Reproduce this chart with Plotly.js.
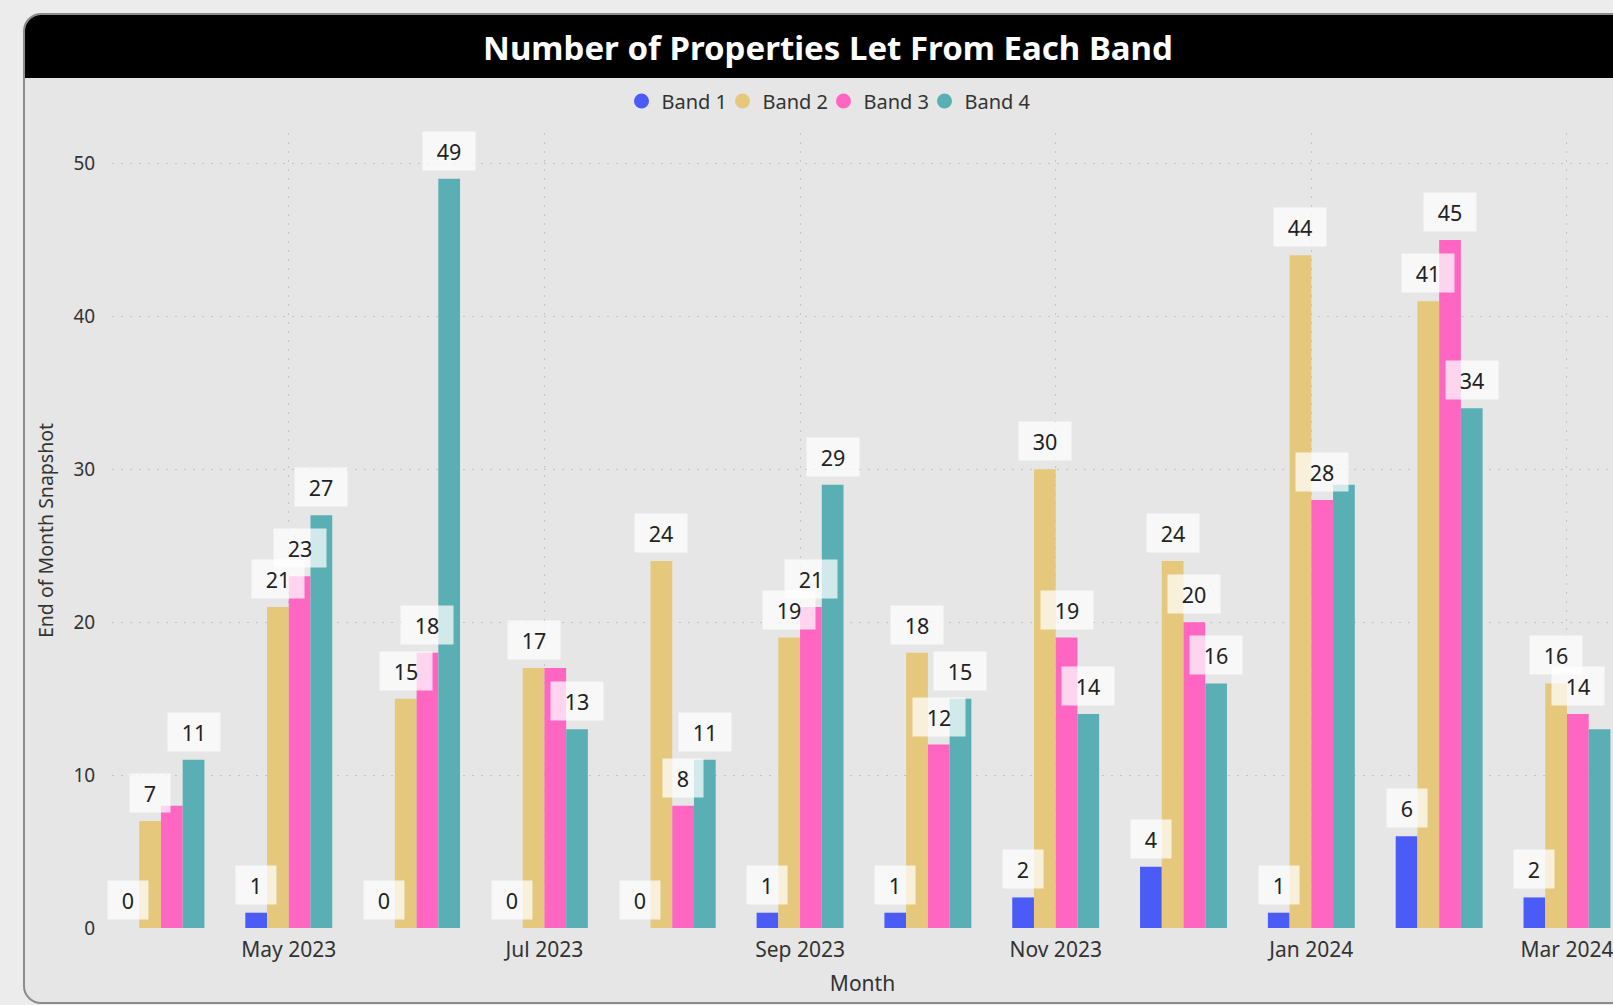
<!DOCTYPE html>
<html><head><meta charset="utf-8">
<script src="https://cdn.plot.ly/plotly-3.0.1.min.js"></script>
<style>
html,body{margin:0;padding:0;background:#ececec;width:1613px;height:1005px;overflow:hidden;}
#card{position:absolute;left:23px;top:13px;width:1700px;height:991px;background:#e6e6e6;border:2px solid #8c8c8c;border-radius:18px;overflow:hidden;box-sizing:border-box;}
#hdr{position:absolute;left:0;top:0;right:0;height:63px;background:#000;}
#chart{position:absolute;left:0;top:0;width:1613px;height:1005px;}
</style></head>
<body>
<div id="card"><div id="hdr"></div></div>
<div id="chart"></div>
<script>
const months = ['Apr 2023','May 2023','Jun 2023','Jul 2023','Aug 2023','Sep 2023','Oct 2023','Nov 2023','Dec 2023','Jan 2024','Feb 2024','Mar 2024'];
const band1 = [0,1,0,0,0,1,1,2,4,1,6,2];
const band2 = [7,21,15,17,24,19,18,30,24,44,41,16];
const band3 = [8,23,18,17,8,21,12,19,20,28,45,14];
const band4 = [11,27,49,13,11,29,15,14,16,29,34,13];
const bandNames = ['Band 1','Band 2','Band 3','Band 4'];
const bandColors = ['#4a5cf5','#e6c87d','#ff66c2','#5aafb5'];
const tickMonths = ['May 2023','Jul 2023','Sep 2023','Nov 2023','Jan 2024','Mar 2024'];
const yTicks = [0,10,20,30,40,50];
// labels that the original visual hides because they overlap
const hiddenLabels = [[2,'Apr 2023'],[2,'Jul 2023'],[3,'Jan 2024'],[3,'Mar 2024']];

const series = [band1, band2, band3, band4];
const FONT = '"Noto Sans", "Open Sans", sans-serif';
const BARGAP = 0.32;
const barW = (1 - BARGAP) / series.length;

const traces = [];
series.forEach((vals, i) => {
  traces.push({
    type: 'bar', x: months, y: vals, name: bandNames[i],
    marker: {color: bandColors[i], line: {width: 0}},
    showlegend: false, hoverinfo: 'x+y+name'
  });
});
series.forEach((vals, i) => {
  traces.push({
    type: 'scatter', mode: 'markers', x: [null], y: [null], name: bandNames[i],
    marker: {color: bandColors[i], size: 15, symbol: 'circle'},
    showlegend: true, hoverinfo: 'skip'
  });
});
// invisible spacer entry so the last legend label is not clipped
traces.push({
  type: 'scatter', mode: 'markers', x: [null], y: [null], name: ' ',
  marker: {color: 'rgba(0,0,0,0)', size: 1}, showlegend: true, hoverinfo: 'skip'
});

const annotations = [];
series.forEach((vals, i) => {
  vals.forEach((v, j) => {
    if (hiddenLabels.some(h => h[0] === i && h[1] === months[j])) return;
    const txt = String(v);
    annotations.push({
      xref: 'x', yref: 'y',
      x: j + (i - (series.length - 1) / 2) * barW,
      y: v, yanchor: 'bottom', xanchor: 'center', yshift: 8,
      text: txt, showarrow: false,
      font: {family: FONT, size: 21.5, color: '#222'},
      bgcolor: 'rgba(255,255,255,0.72)', borderpad: 4.5,
      width: txt.length * 12 + 19
    });
  });
});

const layout = {
  width: 1613, height: 1005,
  paper_bgcolor: 'rgba(0,0,0,0)', plot_bgcolor: 'rgba(0,0,0,0)',
  margin: {l: 112, r: 0, t: 133, b: 77},
  font: {family: FONT, color: '#333'},
  barmode: 'group', bargap: BARGAP, bargroupgap: 0,
  title: {
    text: 'Number of Properties Let From Each Band',
    font: {family: FONT, size: 33, color: '#ffffff', weight: 'bold'},
    xref: 'container', x: 828 / 1613, xanchor: 'center',
    yref: 'container', y: 1 - 48 / 1005, yanchor: 'middle'
  },
  legend: {
    orientation: 'h', xref: 'container', x: 874 / 1613, xanchor: 'center',
    yref: 'container', y: 1 - 101 / 1005, yanchor: 'middle',
    font: {family: FONT, size: 20, color: '#333'},
    bgcolor: 'rgba(0,0,0,0)', itemclick: false,
    entrywidth: 56, entrywidthmode: 'pixels'
  },
  xaxis: {
    type: 'category', range: [-0.383, 11.36],
    tickmode: 'array', tickvals: tickMonths, ticktext: tickMonths,
    showgrid: true, gridcolor: '#c4c4c4', griddash: '2px,7px', gridwidth: 1,
    ticks: 'outside', ticklen: 3, tickcolor: 'rgba(0,0,0,0)',
    tickfont: {family: FONT, size: 21, color: '#333'},
    showline: false, zeroline: false,
    title: {text: 'Month', font: {family: FONT, size: 21, color: '#333'}, standoff: 14}
  },
  yaxis: {
    range: [0, 52], tickmode: 'array', tickvals: yTicks,
    showgrid: true, gridcolor: '#c4c4c4', griddash: '2px,7px', gridwidth: 1,
    ticks: 'outside', ticklen: 12, tickcolor: 'rgba(0,0,0,0)',
    tickfont: {family: FONT, size: 19, color: '#333'},
    showline: false, zeroline: false,
    title: {text: 'End of Month Snapshot', font: {family: FONT, size: 19.5, color: '#333'}, standoff: 14}
  },
  annotations: annotations
};

Plotly.newPlot('chart', traces, layout, {displayModeBar: false, staticPlot: true});
</script>
</body></html>
